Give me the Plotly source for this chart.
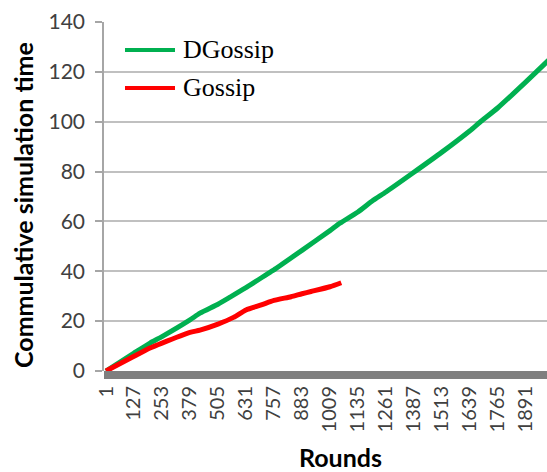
import plotly.graph_objects as go

# ---- data ----
tick_rounds = [1, 127, 253, 379, 505, 631, 757, 883, 1009, 1135, 1261, 1387, 1513, 1639, 1765, 1891]
tick_labels = [str(t) for t in tick_rounds]

dgossip_rounds = [1, 127, 199, 253, 379, 424, 505, 559, 631, 739, 757, 883, 1009, 1054, 1135, 1202, 1261, 1382, 1513, 1639, 1684, 1765, 1891, 1985, 2000]
dgossip_time = [0, 7.2, 11.2, 13.8, 20.5, 23.2, 26.8, 29.6, 33.4, 39.6, 40.6, 48.4, 56.3, 59.3, 63.8, 68.4, 71.8, 79.4, 87.8, 96.4, 99.8, 105.6, 116.0, 124.0, 125.3]

gossip_rounds = [1, 127, 199, 253, 379, 424, 505, 575, 631, 700, 757, 834, 883, 924, 1009, 1060]
gossip_time = [0, 5.9, 9.2, 11.2, 15.5, 16.4, 18.8, 21.5, 24.5, 26.5, 28.3, 29.8, 31.0, 31.9, 33.8, 35.4]

GREEN = "#00b050"
RED = "#ff0000"

fig = go.Figure()
fig.add_trace(go.Scatter(x=dgossip_rounds, y=dgossip_time, mode="lines",
                         line=dict(color=GREEN, width=5, shape="spline", smoothing=0.6),
                         showlegend=False))
fig.add_trace(go.Scatter(x=gossip_rounds, y=gossip_time, mode="lines",
                         line=dict(color=RED, width=5, shape="spline", smoothing=0.6),
                         showlegend=False))

L, R, T, B = 104, 0, 22, 101
W, H = 547, 472
pw, ph = W - L - R, H - T - B

def px_x(p):
    return (p - L) / pw

def px_y(p):
    return (H - B - p) / ph

shapes = [
    # thick grey floor under the plot
    dict(type="rect", xref="paper", yref="paper", x0=0, x1=1, y0=-8 / ph, y1=0,
         fillcolor="#7f7f7f", line=dict(width=0), layer="below"),
    # legend samples
    dict(type="line", xref="paper", yref="paper", x0=px_x(125), x1=px_x(175),
         y0=px_y(50), y1=px_y(50), line=dict(color=GREEN, width=4)),
    dict(type="line", xref="paper", yref="paper", x0=px_x(125), x1=px_x(175),
         y0=px_y(88), y1=px_y(88), line=dict(color=RED, width=4)),
]

annotations = [
    dict(text="DGossip", xref="paper", yref="paper", x=px_x(181), y=px_y(50),
         xanchor="left", yanchor="middle", showarrow=False,
         font=dict(family="Liberation Serif", size=26, color="#000000")),
    dict(text="Gossip", xref="paper", yref="paper", x=px_x(181), y=px_y(88),
         xanchor="left", yanchor="middle", showarrow=False,
         font=dict(family="Liberation Serif", size=26, color="#000000")),
    dict(text="<b>Rounds</b>", xref="paper", yref="paper", x=px_x(340), y=px_y(457),
         xanchor="center", yanchor="middle", showarrow=False,
         font=dict(family="Lato", size=25, color="#000000")),
    dict(text="<b>Commulative simulation time</b>", xref="paper", yref="paper",
         x=px_x(23), y=px_y(205), xanchor="center", yanchor="middle",
         textangle=-90, showarrow=False,
         font=dict(family="Lato", size=25, color="#000000")),
]

fig.update_layout(
    width=W, height=H,
    margin=dict(l=L, r=R, t=T, b=B, pad=0, autoexpand=False),
    paper_bgcolor="white", plot_bgcolor="white",
    shapes=shapes, annotations=annotations,
    showlegend=False,
    xaxis=dict(range=[-8, 1986], tickmode="array", tickvals=tick_rounds, ticktext=tick_labels,
               tickangle=-90, showgrid=False, showline=False, zeroline=False, ticks="",
               ticklabelstandoff=10, automargin=False,
               tickfont=dict(family="Lato", size=20, color="#404040")),
    yaxis=dict(range=[0, 140], tickmode="array", tickvals=[0, 20, 40, 60, 80, 100, 120, 140],
               showgrid=True, gridcolor="#c0c0c0", gridwidth=1.5,
               showline=True, linecolor="#a6a6a6", linewidth=1.5,
               zeroline=False, ticks="outside", ticklen=7, tickcolor="#a6a6a6", tickwidth=1.5,
               ticklabelstandoff=6, automargin=False,
               tickfont=dict(family="Lato", size=21, color="#404040")),
)

fig.write_html("out.html", config={"displayModeBar": False},
               post_script="document.body.style.margin='0';document.body.style.overflow='hidden';")
